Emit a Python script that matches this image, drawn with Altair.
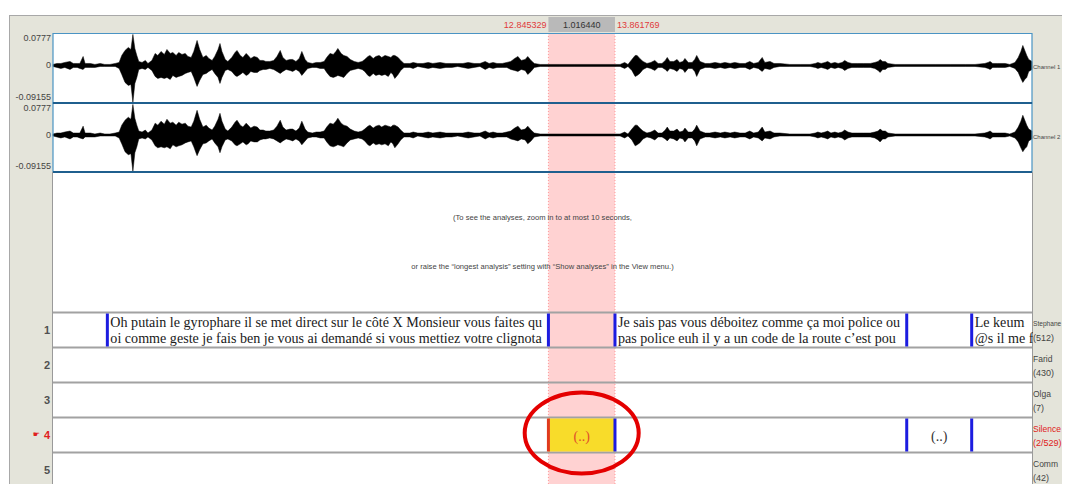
import altair as alt
import pandas as pd

# ------------------------------------------------------------------ data
VIEW_START = 5.28          # s, left edge of the visible window
VIEW_END = 20.23           # s, right edge of the visible window
SEL_START = 12.845329
SEL_END = 13.861769
SEL_LABELS = ["12.845329", "1.016440", "13.861769"]

AMP_TOP = 0.0777
AMP_BOTTOM = -0.09155
AMP_VALUES = [0.0777, 0.0, -0.09155]
AMP_LABELS = ["0.0777", "0", "-0.09155"]
CHANNELS = ["Channel 1", "Channel 2"]

# waveform envelope (time in s, max / min amplitude)
WAVE_T = [
    5.28, 5.34, 5.40, 5.46, 5.54, 5.59, 5.65, 5.69, 5.74, 5.77,
    5.85, 5.92, 6.00, 6.07, 6.15, 6.23, 6.29, 6.33, 6.38, 6.43,
    6.47, 6.50, 6.53, 6.56, 6.59, 6.64, 6.69, 6.73, 6.79, 6.84,
    6.88, 6.93, 6.98, 7.02, 7.07, 7.11, 7.16, 7.20, 7.25, 7.30,
    7.34, 7.39, 7.43, 7.48, 7.52, 7.57, 7.62, 7.66, 7.71, 7.75,
    7.80, 7.83, 7.86, 7.91, 7.95, 8.01, 8.06, 8.09, 8.14, 8.18,
    8.23, 8.26, 8.30, 8.35, 8.40, 8.44, 8.49, 8.53, 8.59, 8.65,
    8.70, 8.75, 8.79, 8.84, 8.90, 8.94, 8.99, 9.04, 9.08, 9.13,
    9.17, 9.24, 9.30, 9.36, 9.42, 9.46, 9.51, 9.56, 9.60, 9.63,
    9.68, 9.72, 9.77, 9.82, 9.88, 9.94, 10.00, 10.04, 10.09, 10.12,
    10.17, 10.21, 10.26, 10.30, 10.35, 10.40, 10.44, 10.47, 10.50, 10.55,
    10.59, 10.64, 10.73, 10.78, 10.85, 10.93, 11.01, 11.08, 11.19, 11.28,
    11.37, 11.46, 11.54, 11.62, 11.71, 11.80, 11.88, 11.94, 12.00, 12.06,
    12.14, 12.21, 12.27, 12.33, 12.38, 12.43, 12.49, 12.53, 12.58, 12.63,
    12.72, 12.84, 13.02, 13.25, 13.48, 13.71, 13.86, 13.94, 14.01, 14.06,
    14.12, 14.17, 14.20, 14.24, 14.29, 14.35, 14.41, 14.47, 14.52, 14.58,
    14.63, 14.66, 14.70, 14.76, 14.81, 14.85, 14.90, 14.93, 14.98, 15.04,
    15.08, 15.11, 15.16, 15.24, 15.31, 15.39, 15.47, 15.54, 15.62, 15.69,
    15.77, 15.85, 15.92, 15.98, 16.05, 16.11, 16.15, 16.23, 16.29, 16.38,
    16.53, 16.69, 16.84, 16.92, 16.96, 17.01, 17.07, 17.11, 17.16, 17.22,
    17.27, 17.33, 17.37, 17.42, 17.48, 17.57, 17.66, 17.76, 17.83, 17.88,
    17.91, 17.95, 17.99, 18.03, 18.14, 18.29, 18.52, 18.75, 18.98, 19.21,
    19.36, 19.51, 19.56, 19.59, 19.63, 19.70, 19.74, 19.82, 19.89, 19.97,
    20.02, 20.06, 20.09, 20.12, 20.15, 20.18, 20.23,
]
WAVE_MAX = [
    .0025, .0049, .0049, .0074, .0099, .0049, .0049, .0049, .0222, .0049,
    .0049, .0025, .0049, .0025, .0025, .0049, .0074, .0247, .0371, .0445,
    .0395, .0766, .0420, .0247, .0099, .0074, .0124, .0049, .0124, .0297,
    .0247, .0346, .0272, .0395, .0297, .0321, .0247, .0321, .0272, .0297,
    .0222, .0198, .0346, .0618, .0395, .0198, .0247, .0173, .0124, .0222,
    .0395, .0543, .0346, .0148, .0099, .0198, .0321, .0371, .0247, .0198,
    .0297, .0247, .0173, .0222, .0198, .0124, .0124, .0099, .0099, .0124,
    .0222, .0371, .0198, .0124, .0148, .0148, .0099, .0173, .0346, .0148,
    .0074, .0049, .0074, .0074, .0099, .0198, .0297, .0272, .0346, .0420,
    .0297, .0247, .0222, .0148, .0099, .0074, .0099, .0148, .0222, .0247,
    .0173, .0222, .0247, .0198, .0247, .0222, .0198, .0247, .0247, .0198,
    .0124, .0049, .0049, .0074, .0049, .0049, .0074, .0049, .0074, .0049,
    .0049, .0049, .0049, .0074, .0049, .0049, .0099, .0049, .0074, .0049,
    .0049, .0074, .0099, .0173, .0222, .0124, .0148, .0222, .0124, .0049,
    .0025, .0025, .0025, .0025, .0025, .0025, .0025, .0025, .0074, .0025,
    .0148, .0247, .0247, .0173, .0099, .0049, .0074, .0124, .0049, .0049,
    .0124, .0198, .0099, .0099, .0148, .0074, .0099, .0173, .0074, .0074,
    .0148, .0247, .0099, .0049, .0049, .0074, .0049, .0074, .0049, .0074,
    .0049, .0049, .0099, .0049, .0074, .0198, .0074, .0099, .0049, .0049,
    .0025, .0025, .0025, .0049, .0074, .0049, .0074, .0099, .0049, .0074,
    .0049, .0074, .0124, .0074, .0049, .0049, .0049, .0049, .0074, .0099,
    .0148, .0099, .0099, .0049, .0025, .0025, .0025, .0025, .0025, .0025,
    .0025, .0049, .0074, .0099, .0049, .0049, .0049, .0049, .0025, .0074,
    .0198, .0346, .0494, .0371, .0247, .0148, .0099,
]
WAVE_MIN = [
    -.0025, -.0049, -.0074, -.0049, -.0099, -.0049, -.0049, -.0074, -.0099, -.0049,
    -.0049, -.0049, -.0025, -.0025, -.0025, -.0025, -.0074, -.0222, -.0420, -.0494,
    -.0469, -.0915, -.0445, -.0297, -.0099, -.0074, -.0099, -.0049, -.0124, -.0272,
    -.0321, -.0297, -.0321, -.0297, -.0346, -.0247, -.0297, -.0272, -.0247, -.0198,
    -.0173, -.0148, -.0297, -.0519, -.0371, -.0222, -.0198, -.0148, -.0099, -.0198,
    -.0297, -.0445, -.0297, -.0124, -.0099, -.0148, -.0247, -.0272, -.0222, -.0173,
    -.0247, -.0222, -.0148, -.0173, -.0173, -.0124, -.0099, -.0099, -.0074, -.0099,
    -.0148, -.0198, -.0148, -.0099, -.0124, -.0148, -.0099, -.0148, -.0247, -.0148,
    -.0074, -.0049, -.0049, -.0074, -.0074, -.0173, -.0272, -.0297, -.0272, -.0247,
    -.0272, -.0297, -.0198, -.0124, -.0099, -.0074, -.0099, -.0148, -.0247, -.0272,
    -.0198, -.0247, -.0222, -.0247, -.0222, -.0272, -.0173, -.0222, -.0321, -.0222,
    -.0124, -.0049, -.0049, -.0074, -.0025, -.0049, -.0074, -.0049, -.0074, -.0049,
    -.0049, -.0025, -.0049, -.0074, -.0049, -.0025, -.0099, -.0049, -.0074, -.0049,
    -.0049, -.0049, -.0099, -.0124, -.0148, -.0099, -.0124, -.0222, -.0148, -.0049,
    -.0025, -.0025, -.0025, -.0025, -.0025, -.0025, -.0025, -.0025, -.0074, -.0025,
    -.0124, -.0272, -.0247, -.0198, -.0099, -.0049, -.0074, -.0124, -.0049, -.0049,
    -.0099, -.0148, -.0074, -.0099, -.0148, -.0074, -.0099, -.0173, -.0074, -.0074,
    -.0148, -.0272, -.0099, -.0049, -.0049, -.0074, -.0049, -.0074, -.0049, -.0074,
    -.0049, -.0049, -.0099, -.0049, -.0074, -.0148, -.0074, -.0099, -.0049, -.0025,
    -.0025, -.0025, -.0025, -.0049, -.0074, -.0049, -.0074, -.0099, -.0049, -.0074,
    -.0049, -.0074, -.0124, -.0074, -.0049, -.0049, -.0049, -.0049, -.0074, -.0124,
    -.0173, -.0099, -.0099, -.0049, -.0025, -.0025, -.0025, -.0025, -.0025, -.0025,
    -.0025, -.0049, -.0074, -.0099, -.0049, -.0049, -.0049, -.0049, -.0025, -.0074,
    -.0173, -.0321, -.0420, -.0346, -.0297, -.0148, -.0099,
]
assert len(WAVE_T) == len(WAVE_MAX) == len(WAVE_MIN)

ANALYSIS_MSG = [
    "(To see the analyses, zoom in to at most 10 seconds,",
    "or raise the \u201clongest analysis\u201d setting with \u201cShow analyses\u201d in the View menu.)",
]

TIER_NUMBERS = ["1", "2", "3", "4", "5"]
TIER_NAMES = ["Stephane", "Farid", "Olga", "Silence", "Comm"]
TIER_COUNTS = ["(512)", "(430)", "(7)", "(2/529)", "(42)"]
SELECTED_TIER = "4"

T1_BOUNDS = [6.110, 12.845329, 13.861769, 18.317, 19.309]
T1_TEXT_START = [6.110, 13.861769, 19.309]
T1_LINE1 = [
    "Oh putain le gyrophare il se met direct sur le c\u00f4t\u00e9 X Monsieur vous faites qu",
    "Je sais pas vous d\u00e9boitez comme \u00e7a moi police ou",
    "\u00a0Le keum",
]
T1_LINE2 = [
    "oi comme geste je fais ben je vous ai demand\u00e9 si vous mettiez votre clignota",
    "\u00a0pas police euh il y a un code de la route c\u2019est pou",
    "@s il me f",
]
T4_BOUNDS = [13.861769, 18.317, 19.309]
T4_START = [12.845329, 18.317]
T4_END = [13.861769, 19.309]
T4_TEXT = ["(..)", "(..)"]

# ------------------------------------------------------------------ layout
W, H = 1054, 476
M = 8
PX0, PX1 = 53, 1032
FRAME_X0, FRAME_Y0 = 9, 15
VIEW_Y0 = 33
CH_AMP_PX = [(34.0, 102.5), (104.0, 171.5)]
CH_BOX = [(33.5, 103.0), (103.0, 172.0)]
STRIP_Y = (17, 32)
STRIP_TEXT_Y = 25
ANALYSIS_Y = [218, 267]
TIER_Y0 = 312.5
TIER_H = 35
TEXT_BASE = [327, 343]
ELLIPSE_Y = 433
ELLIPSE_PATH = "M -1 0 A 1 0.71 0 1 1 1 0 A 1 0.71 0 1 1 -1 0 Z"
NAME_FONT = [6.6, 8.5, 8.5, 8.5, 8.5]          # tier-name font sizes (first one shrunk to fit)
CHANNEL_FONT = 6.0

GRAY = "#e4e4da"
SANS = "Liberation Sans"
SERIF = "Liberation Serif"

PPS = (PX1 - PX0) / (VIEW_END - VIEW_START)


def sx_px():
    return alt.Scale(domain=[M, M + W], nice=False, zero=False)


def sx_t():
    return alt.Scale(domain=[VIEW_START - (PX0 - M) / PPS, VIEW_START + (M + W - PX0) / PPS],
                     nice=False, zero=False)


def sy_px():
    return alt.Scale(domain=[M + H, M], nice=False, zero=False)


def sy_amp(ch):
    top_px, bot_px = CH_AMP_PX[ch]
    k = (bot_px - top_px) / (AMP_TOP - AMP_BOTTOM)
    return alt.Scale(domain=[AMP_BOTTOM - (M + H - bot_px) / k, AMP_TOP + (top_px - M) / k],
                     nice=False, zero=False)


def X(field, sc):
    return alt.X(field, type="quantitative", scale=sc, axis=None)


def Y(field, sc):
    return alt.Y(field, type="quantitative", scale=sc, axis=None)


def rect(df, xs, ys, **kw):
    return alt.Chart(df).mark_rect(**kw).encode(
        x=X("x", xs), x2="x2", y=Y("y", ys), y2="y2")


def rule(df, xs, ys, **kw):
    return alt.Chart(df).mark_rule(**kw).encode(
        x=X("x", xs), x2="x2", y=Y("y", ys), y2="y2")


def text(df, xs, ys, **kw):
    enc = dict(x=X("x", xs), y=Y("y", ys), text="label:N")
    if "c" in df.columns:
        enc["color"] = alt.Color("c:N", scale=None, legend=None)
    if "fs" in df.columns:
        enc["size"] = alt.Size("fs:Q", scale=None, legend=None)
    return alt.Chart(df).mark_text(**kw).encode(**enc)


layers = []

# editor frame
layers.append(rect(pd.DataFrame({"x": [FRAME_X0], "x2": [M + W], "y": [FRAME_Y0], "y2": [M + H]}),
                   sx_px(), sy_px(), color=GRAY))
layers.append(rule(pd.DataFrame({"x": [FRAME_X0, FRAME_X0 + 0.5], "x2": [M + W, FRAME_X0 + 0.5],
                                 "y": [FRAME_Y0 + 0.5, FRAME_Y0], "y2": [FRAME_Y0 + 0.5, M + H]}),
                   sx_px(), sy_px(), color="#a8a8a8", strokeWidth=1))
layers.append(rect(pd.DataFrame({"x": [PX0], "x2": [PX1], "y": [VIEW_Y0], "y2": [M + H]}),
                   sx_px(), sy_px(), color="white"))

# selection
layers.append(rect(pd.DataFrame({"x": [SEL_START], "x2": [SEL_END], "y": [VIEW_Y0], "y2": [M + H]}),
                   sx_t(), sy_px(), color="#ffd2d2"))
layers.append(rule(pd.DataFrame({"x": [SEL_START, SEL_END], "x2": [SEL_START, SEL_END],
                                 "y": [VIEW_Y0, VIEW_Y0], "y2": [M + H, M + H]}),
                   sx_t(), sy_px(), color="#ff9a9a", strokeWidth=1, strokeDash=[1, 2]))

# analysis message
mid_t = (VIEW_START + VIEW_END) / 2
layers.append(text(pd.DataFrame({"x": [mid_t, mid_t], "y": ANALYSIS_Y, "label": ANALYSIS_MSG}),
                   sx_t(), sy_px(), font=SANS, fontSize=7.6, color="#444444", align="center",
                   baseline="middle"))

# waveforms
wave = pd.DataFrame({"t": WAVE_T, "hi": WAVE_MAX, "lo": WAVE_MIN})
for ch in range(2):
    layers.append(alt.Chart(pd.DataFrame({"x": [VIEW_START], "x2": [VIEW_END], "y": [0.0], "y2": [0.0]}))
                  .mark_rule(color="black", strokeWidth=0.8)
                  .encode(x=X("x", sx_t()), x2="x2", y=Y("y", sy_amp(ch)), y2="y2"))
    layers.append(alt.Chart(wave).mark_area(color="black", stroke="black", strokeWidth=0.5,
                                            interpolate="linear")
                  .encode(x=X("t", sx_t()), y=Y("hi", sy_amp(ch)), y2="lo"))

# channel boxes
layers.append(rect(pd.DataFrame({"x": [PX0, PX0], "x2": [PX1, PX1],
                                 "y": [b[0] for b in CH_BOX], "y2": [b[1] for b in CH_BOX]}),
                   sx_px(), sy_px(), fillOpacity=0, stroke="#4a94c4", strokeWidth=1.2))
layers.append(rule(pd.DataFrame({"x": [PX0, PX0], "x2": [PX1, PX1],
                                 "y": [CH_BOX[0][1], CH_BOX[1][1]], "y2": [CH_BOX[0][1], CH_BOX[1][1]]}),
                   sx_px(), sy_px(), color="#1f5f8e", strokeWidth=2))

# tiers
tier_top = [TIER_Y0 + i * TIER_H for i in range(len(TIER_NUMBERS))]
layers.append(rule(pd.DataFrame({"x": [PX0 - 0.5, PX1 + 0.5], "x2": [PX0 - 0.5, PX1 + 0.5],
                                 "y": [CH_BOX[1][1], CH_BOX[1][1]], "y2": [M + H, M + H]}),
                   sx_px(), sy_px(), color="#9a9a9a", strokeWidth=1))
layers.append(rule(pd.DataFrame({"x": [PX0] * len(tier_top), "x2": [PX1] * len(tier_top),
                                 "y": tier_top, "y2": tier_top}),
                   sx_px(), sy_px(), color="#a2a2a2", strokeWidth=2))

t4_top = tier_top[TIER_NUMBERS.index(SELECTED_TIER)]
layers.append(rect(pd.DataFrame({"x": [T4_START[0]], "x2": [T4_END[0]],
                                 "y": [t4_top + 1], "y2": [t4_top + TIER_H - 1]}),
                   sx_t(), sy_px(), color="#f8dc2a"))

t1_top = tier_top[0]
layers.append(rule(pd.DataFrame({"x": T1_BOUNDS, "x2": T1_BOUNDS,
                                 "y": [t1_top + 1] * len(T1_BOUNDS),
                                 "y2": [t1_top + TIER_H - 1] * len(T1_BOUNDS)}),
                   sx_t(), sy_px(), color="#1c1ce0", strokeWidth=3))
layers.append(rule(pd.DataFrame({"x": T4_BOUNDS, "x2": T4_BOUNDS,
                                 "y": [t4_top + 1] * len(T4_BOUNDS),
                                 "y2": [t4_top + TIER_H - 1] * len(T4_BOUNDS)}),
                   sx_t(), sy_px(), color="#1c1ce0", strokeWidth=3))
layers.append(rule(pd.DataFrame({"x": [T4_START[0]], "x2": [T4_START[0]],
                                 "y": [t4_top + 1], "y2": [t4_top + TIER_H - 1]}),
                   sx_t(), sy_px(), color="#e03a1e", strokeWidth=3))

for base, lines in zip(TEXT_BASE, [T1_LINE1, T1_LINE2]):
    layers.append(text(pd.DataFrame({"x": T1_TEXT_START, "y": [base] * len(lines), "label": lines}),
                       sx_t(), sy_px(), font=SERIF, fontSize=14.1, color="#1a1a1a", align="left",
                       baseline="alphabetic", dx=3))

t4_mid = [(a + b) / 2 for a, b in zip(T4_START, T4_END)]
layers.append(text(pd.DataFrame({"x": t4_mid, "y": [t4_top + 23] * 2, "label": T4_TEXT,
                                 "c": ["#e0502a", "#333333"]}),
                   sx_t(), sy_px(), font=SERIF, fontSize=14, align="center", baseline="alphabetic"))

# right column cover (clips tier text)
layers.append(rect(pd.DataFrame({"x": [PX1 + 1], "x2": [M + W], "y": [VIEW_Y0], "y2": [M + H]}),
                   sx_px(), sy_px(), color=GRAY))

# amplitude labels and channel names
for ch in range(2):
    for v, lab, bl, dy in zip(AMP_VALUES, AMP_LABELS, ["top", "middle", "bottom"], [0, 0, -1]):
        layers.append(alt.Chart(pd.DataFrame({"x": [PX0 - 2], "y": [v], "label": [lab]}))
                      .mark_text(font=SANS, fontSize=9, color="#444444", align="right", baseline=bl, dy=dy)
                      .encode(x=X("x", sx_px()), y=Y("y", sy_amp(ch)), text="label:N"))
    layers.append(alt.Chart(pd.DataFrame({"x": [PX1 + 1], "y": [0.0], "label": [CHANNELS[ch]]}))
                  .mark_text(font=SANS, fontSize=CHANNEL_FONT, color="#444444", align="left",
                             baseline="middle", dy=2)
                  .encode(x=X("x", sx_px()), y=Y("y", sy_amp(ch)), text="label:N"))

# tier numbers & names
colors = ["#e02020" if n == SELECTED_TIER else "#505050" for n in TIER_NUMBERS]
layers.append(text(pd.DataFrame({"x": [PX0 - 3] * 5, "y": [t + TIER_H / 2 + 0.5 for t in tier_top],
                                 "label": TIER_NUMBERS, "c": colors}),
                   sx_px(), sy_px(), font=SANS, fontSize=11, fontWeight="bold", align="right",
                   baseline="middle"))
layers.append(text(pd.DataFrame({"x": [PX0 - 13], "y": [t4_top + TIER_H / 2], "label": ["\u261b"]}),
                   sx_px(), sy_px(), font="DejaVu Sans", fontSize=8, color="#e02020", align="right",
                   baseline="middle"))
name_colors = ["#e02020" if n == SELECTED_TIER else "#444444" for n in TIER_NUMBERS]
layers.append(text(pd.DataFrame({"x": [PX1 + 1] * 5, "y": [t + 11 for t in tier_top],
                                 "label": TIER_NAMES, "c": name_colors, "fs": NAME_FONT}),
                   sx_px(), sy_px(), font=SANS, align="left", baseline="middle"))
layers.append(text(pd.DataFrame({"x": [PX1 + 1] * 5, "y": [t + 25 for t in tier_top],
                                 "label": TIER_COUNTS, "c": name_colors}),
                   sx_px(), sy_px(), font=SANS, fontSize=9, align="left", baseline="middle"))

# top strip with selection times
layers.append(rect(pd.DataFrame({"x": [SEL_START], "x2": [SEL_END], "y": [STRIP_Y[0]], "y2": [STRIP_Y[1]]}),
                   sx_t(), sy_px(), color="#b9b9b9"))
layers.append(text(pd.DataFrame({"x": [SEL_START], "y": [STRIP_TEXT_Y], "label": [SEL_LABELS[0]]}),
                   sx_t(), sy_px(), font=SANS, fontSize=9, color="#e03a3a", align="right",
                   baseline="middle", dx=-2))
layers.append(text(pd.DataFrame({"x": [(SEL_START + SEL_END) / 2], "y": [STRIP_TEXT_Y], "label": [SEL_LABELS[1]]}),
                   sx_t(), sy_px(), font=SANS, fontSize=9, color="#333333", align="center",
                   baseline="middle"))
layers.append(text(pd.DataFrame({"x": [SEL_END], "y": [STRIP_TEXT_Y], "label": [SEL_LABELS[2]]}),
                   sx_t(), sy_px(), font=SANS, fontSize=9, color="#e03a3a", align="left",
                   baseline="middle", dx=2))

# annotation ellipse around the selected silence interval
layers.append(alt.Chart(pd.DataFrame({"x": [(SEL_START + SEL_END) / 2], "y": [ELLIPSE_Y]}))
              .mark_point(shape=ELLIPSE_PATH, size=114 * 114, filled=False, stroke="#e40000",
                          strokeWidth=4, opacity=1, dx=1)
              .encode(x=X("x", sx_t()), y=Y("y", sy_px())))

chart = (
    alt.layer(*layers)
    .resolve_scale(x="independent", y="independent")
    .properties(width=W, height=H, padding=0, autosize=alt.AutoSizeParams(type="none"),
                background="white")
    .configure_view(strokeWidth=0)
)

chart.save("out.html", embed_options={"renderer": "svg", "actions": False})
